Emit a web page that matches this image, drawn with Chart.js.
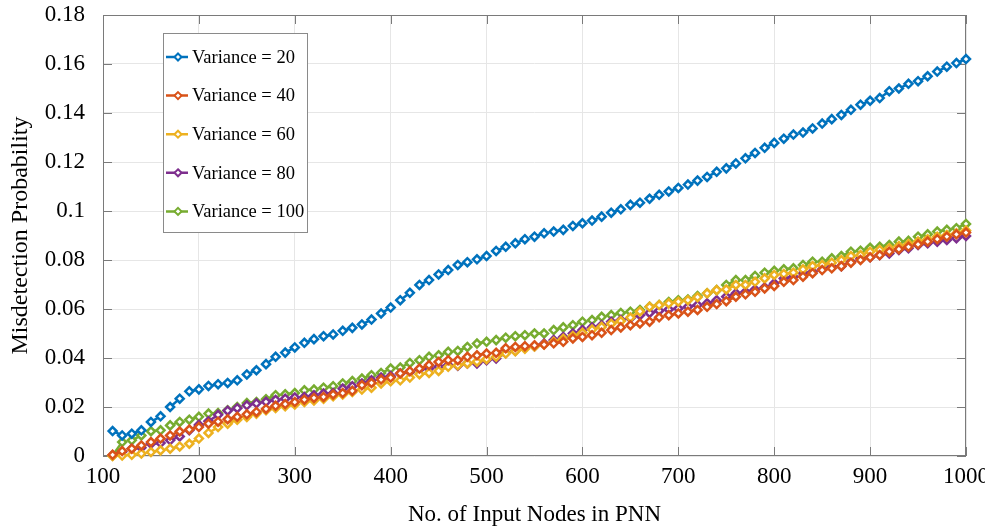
<!DOCTYPE html>
<html>
<head>
<meta charset="utf-8">
<script src="https://cdn.jsdelivr.net/npm/chart.js@4.4.1/dist/chart.umd.min.js"></script>
<style>
html,body{margin:0;padding:0;background:#fff;}
#wrap{width:985px;height:531px;position:relative;}
</style>
</head>
<body>
<div id="wrap"><canvas id="chart"></canvas></div>
<script>
// input nodes (x)
const nodes = [
  110,120,130,140,150,160,170,180,190,200,
  210,220,230,240,250,260,270,280,290,300,
  310,320,330,340,350,360,370,380,390,400,
  410,420,430,440,450,460,470,480,490,500,
  510,520,530,540,550,560,570,580,590,600,
  610,620,630,640,650,660,670,680,690,700,
  710,720,730,740,750,760,770,780,790,800,
  810,820,830,840,850,860,870,880,890,900,
  910,920,930,940,950,960,970,980,990,1000
];

const var20 = [
  .0102,.0084,.0091,.0105,.0139,.0162,.0200,.0234,.0264,.0272,
  .0286,.0293,.0298,.0309,.0333,.0350,.0375,.0405,.0422,.0443,
  .0462,.0477,.0489,.0496,.0511,.0523,.0537,.0557,.0582,.0606,
  .0636,.0666,.0698,.0718,.0741,.0759,.0780,.0791,.0803,.0816,
  .0837,.0854,.0868,.0885,.0895,.0909,.0916,.0923,.0939,.0950,
  .0961,.0977,.0993,.1007,.1025,.1034,.1050,.1066,.1080,.1094,
  .1108,.1124,.1139,.1160,.1174,.1194,.1215,.1237,.1258,.1278,
  .1295,.1312,.1320,.1337,.1357,.1375,.1392,.1413,.1434,.1450,
  .1461,.1489,.1500,.1519,.1530,.1550,.1569,.1589,.1604,.1620
];
const var40 = [
  .0005,.0020,.0030,.0043,.0057,.0071,.0084,.0100,.0108,.0118,
  .0132,.0140,.0150,.0160,.0170,.0180,.0192,.0205,.0212,.0220,
  .0230,.0237,.0241,.0251,.0257,.0266,.0289,.0298,.0312,.0320,
  .0337,.0346,.0357,.0371,.0384,.0391,.0391,.0405,.0411,.0418,
  .0421,.0440,.0445,.0448,.0452,.0455,.0460,.0466,.0480,.0486,
  .0493,.0503,.0514,.0525,.0534,.0541,.0548,.0566,.0575,.0582,
  .0589,.0596,.0609,.0620,.0632,.0650,.0660,.0670,.0684,.0694,
  .0711,.0718,.0732,.0746,.0759,.0766,.0775,.0789,.0800,.0811,
  .0820,.0834,.0844,.0854,.0864,.0875,.0885,.0895,.0905,.0912
];
const var60 = [
  .0000,.0002,.0005,.0010,.0016,.0023,.0030,.0039,.0050,.0071,
  .0094,.0118,.0132,.0148,.0159,.0173,.0187,.0196,.0203,.0210,
  .0220,.0227,.0234,.0244,.0251,.0261,.0271,.0279,.0296,.0305,
  .0309,.0320,.0334,.0339,.0347,.0364,.0370,.0378,.0385,.0395,
  .0405,.0418,.0428,.0438,.0447,.0455,.0466,.0478,.0490,.0503,
  .0516,.0527,.0540,.0551,.0565,.0590,.0609,.0616,.0623,.0630,
  .0636,.0648,.0664,.0677,.0680,.0698,.0698,.0711,.0725,.0739,
  .0743,.0748,.0762,.0775,.0780,.0789,.0800,.0816,.0820,.0834,
  .0841,.0848,.0857,.0865,.0875,.0885,.0895,.0902,.0909,.0920
];
const var80 = [
  .0003,.0017,.0030,.0034,.0050,.0053,.0064,.0080,.0105,.0127,
  .0142,.0168,.0185,.0195,.0207,.0215,.0221,.0229,.0234,.0239,
  .0241,.0248,.0255,.0257,.0275,.0285,.0296,.0309,.0320,.0326,
  .0337,.0343,.0353,.0357,.0364,.0371,.0368,.0378,.0378,.0391,
  .0398,.0420,.0430,.0445,.0448,.0459,.0473,.0486,.0500,.0514,
  .0525,.0534,.0548,.0555,.0562,.0575,.0584,.0593,.0598,.0602,
  .0609,.0616,.0623,.0636,.0650,.0664,.0670,.0680,.0688,.0705,
  .0725,.0732,.0746,.0752,.0762,.0773,.0775,.0793,.0807,.0811,
  .0820,.0827,.0841,.0848,.0861,.0868,.0875,.0882,.0889,.0898
];
const var100 = [
  .0002,.0057,.0064,.0084,.0101,.0105,.0125,.0139,.0148,.0160,
  .0173,.0175,.0187,.0200,.0216,.0220,.0232,.0248,.0252,.0257,
  .0268,.0271,.0279,.0285,.0296,.0306,.0316,.0330,.0339,.0357,
  .0361,.0380,.0391,.0405,.0411,.0425,.0429,.0445,.0459,.0466,
  .0473,.0483,.0489,.0493,.0500,.0500,.0514,.0525,.0534,.0548,
  .0555,.0568,.0575,.0584,.0589,.0596,.0609,.0616,.0629,.0636,
  .0639,.0653,.0664,.0677,.0698,.0718,.0718,.0735,.0748,.0756,
  .0762,.0766,.0780,.0793,.0793,.0807,.0816,.0834,.0838,.0850,
  .0854,.0861,.0875,.0878,.0895,.0905,.0916,.0923,.0930,.0947
];

const seriesNames = ['Variance = 20','Variance = 40','Variance = 60','Variance = 80','Variance = 100'];
const seriesColors = ['#0072BD','#D95319','#EDB120','#7E2F8E','#77AC30'];
const xTicks = [100,200,300,400,500,600,700,800,900,1000];
const xTickLabels = ['100','200','300','400','500','600','700','800','900','1000'];
const yTicks = [0,0.02,0.04,0.06,0.08,0.1,0.12,0.14,0.16,0.18];
const yTickLabels = ['0','0.02','0.04','0.06','0.08','0.1','0.12','0.14','0.16','0.18'];

const serif = 'Liberation Serif, Times New Roman, serif';
const allSeries = [var20, var40, var60, var80, var100];

const datasets = allSeries.map((vals, i) => ({
  label: seriesNames[i],
  data: nodes.map((n, k) => ({x: n, y: vals[k]})),
  borderColor: seriesColors[i],
  backgroundColor: '#fff',
  borderWidth: 2.5,
  pointStyle: 'rectRot',
  pointRadius: 4,
  pointBorderWidth: 2.5,
  pointBackgroundColor: '#fff',
  pointBorderColor: seriesColors[i],
  tension: 0,
  clip: false,
  // dashed look: every other segment is drawn
  segment: {
    borderColor: ctx => ctx.p0DataIndex % 2 === 0 ? seriesColors[i] : 'rgba(0,0,0,0)'
  }
}));

// box around the plot with inward ticks (matlab style)
const framePlugin = {
  id: 'frame',
  beforeDatasetsDraw(chart) {
    const {ctx, chartArea: a, scales: {x, y}} = chart;
    ctx.save();
    ctx.strokeStyle = '#7a7a7a';
    ctx.lineWidth = 1;
    ctx.strokeRect(Math.round(a.left) + 0.5, Math.round(a.top) + 0.5, Math.round(a.width) - 1, Math.round(a.height) - 1);
    ctx.beginPath();
    xTicks.forEach(v => {
      const px = Math.round(x.getPixelForValue(v)) + 0.5;
      ctx.moveTo(px, a.bottom); ctx.lineTo(px, a.bottom - 9);
      ctx.moveTo(px, a.top); ctx.lineTo(px, a.top + 9);
    });
    yTicks.forEach(v => {
      const py = Math.round(y.getPixelForValue(v)) + 0.5;
      ctx.moveTo(a.left, py); ctx.lineTo(a.left + 9, py);
      ctx.moveTo(a.right, py); ctx.lineTo(a.right - 9, py);
    });
    ctx.stroke();
    ctx.restore();
  }
};

function diamond(ctx, cx, cy, r) {
  ctx.beginPath();
  ctx.moveTo(cx, cy - r); ctx.lineTo(cx + r, cy); ctx.lineTo(cx, cy + r); ctx.lineTo(cx - r, cy);
  ctx.closePath();
}

const legendPlugin = {
  id: 'boxLegend',
  afterDraw(chart) {
    const ctx = chart.ctx;
    const L = 163, T = 33, W = 144, H = 199;
    ctx.save();
    ctx.fillStyle = '#fff';
    ctx.fillRect(L, T, W, H);
    ctx.strokeStyle = '#8a8a8a';
    ctx.lineWidth = 1;
    ctx.strokeRect(L + 0.5, T + 0.5, W, H);
    ctx.font = '18.5px ' + serif;
    ctx.textBaseline = 'middle';
    chart.data.datasets.forEach((ds, i) => {
      const cy = 57 + i * 38.6;
      ctx.strokeStyle = ds.borderColor;
      ctx.lineWidth = 2.5;
      ctx.beginPath();
      ctx.moveTo(166, cy); ctx.lineTo(175, cy);
      ctx.moveTo(181, cy); ctx.lineTo(188, cy);
      ctx.stroke();
      ctx.lineWidth = 2;
      diamond(ctx, 178, cy, 3.5);
      ctx.fillStyle = '#fff';
      ctx.fill();
      ctx.stroke();
      ctx.fillStyle = '#000';
      ctx.fillText(ds.label, 192, cy + 1);
    });
    ctx.restore();
  }
};

const tickFont = {family: serif, size: 23};

new Chart(document.getElementById('chart'), {
  type: 'line',
  data: {datasets},
  options: {
    responsive: true,
    maintainAspectRatio: false,
    animation: false,
    layout: {padding: {top: 15, right: 19, left: 0, bottom: 0}},
    plugins: {legend: {display: false}, tooltip: {enabled: false}},
    scales: {
      x: {
        type: 'linear',
        min: 100,
        max: 1000,
        afterBuildTicks: s => { s.ticks = xTicks.map(v => ({value: v})); },
        afterFit: s => { s.height = 75; s.paddingLeft = 0; s.paddingRight = 0; },
        ticks: {font: tickFont, color: '#000', padding: 7, maxRotation: 0, autoSkip: false, callback: (v, i) => xTickLabels[i]},
        grid: {color: '#e6e6e6', drawTicks: false},
        border: {display: false},
        title: {display: true, text: 'No. of Input Nodes in PNN', font: {family: serif, size: 23}, color: '#000', padding: {top: 0, bottom: 2}}
      },
      y: {
        type: 'linear',
        min: 0,
        max: 0.18,
        afterBuildTicks: s => { s.ticks = yTicks.map(v => ({value: v})); },
        afterFit: s => { s.width = 103; s.paddingTop = 0; s.paddingBottom = 0; },
        ticks: {font: tickFont, color: '#000', padding: 18, callback: (v, i) => yTickLabels[i]},
        grid: {color: '#e6e6e6', drawTicks: false},
        border: {display: false},
        title: {display: true, text: 'Misdetection Probability', font: {family: serif, size: 24}, color: '#000', padding: {top: 6, bottom: 0}}
      }
    }
  },
  plugins: [framePlugin, legendPlugin]
});
</script>
</body>
</html>
